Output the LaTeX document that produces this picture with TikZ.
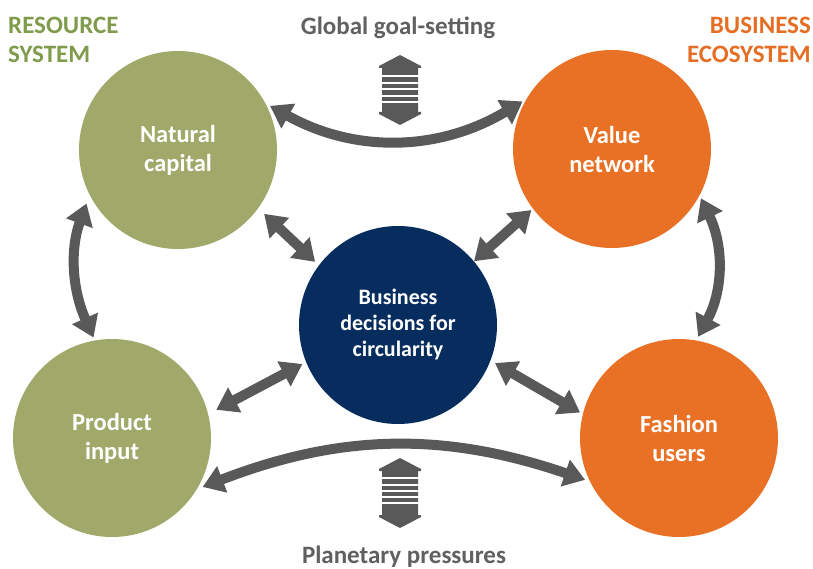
\documentclass[tikz,border=0pt]{standalone}
\usepackage{fontspec}
\setmainfont{Carlito}
\usetikzlibrary{arrows.meta}
\definecolor{olivecirc}{RGB}{160,168,106}
\definecolor{orangecirc}{RGB}{233,113,38}
\definecolor{navycirc}{RGB}{6,45,94}
\definecolor{arrowgray}{RGB}{89,89,89}
\definecolor{labelgray}{RGB}{96,96,96}
\definecolor{titlegreen}{RGB}{127,155,75}
\definecolor{titleorange}{RGB}{230,110,36}
\tikzset{
  hub/.style={circle, minimum size=198pt, inner sep=0pt, text=white, align=center,
    font=\bfseries\fontsize{24.5}{29}\selectfont},
  heading/.style={inner sep=0pt, font=\bfseries\fontsize{25}{29}\selectfont},
  link/.style={line width=10pt, draw=arrowgray,
    {Triangle[width=27pt,length=21pt]}-{Triangle[width=27pt,length=21pt]}}
}
\begin{document}
\begin{tikzpicture}[x=1pt,y=-1pt]
\useasboundingbox (0,0) rectangle (813,569);
% circles
\node[hub, fill=olivecirc] (natcap) at (178,150) {Natural\\capital};
\node[hub, fill=orangecirc] (valnet) at (612,149) {Value\\network};
\node[hub, fill=navycirc, font=\bfseries\fontsize{22}{26}\selectfont] (bizdec) at (398,325) {Business\\decisions for\\circularity};
\node[hub, fill=olivecirc] (prodin) at (112,438) {Product\\input};
\node[hub, fill=orangecirc] (fashusr) at (679,438) {Fashion\\users};
% headings
\node[heading, text=titlegreen, anchor=north west, align=left] (ressys) at (8,17) {RESOURCE\\SYSTEM};
\node[heading, text=titleorange, anchor=north east, align=right] (bizeco) at (811,17) {BUSINESS\\ECOSYSTEM};
\node[heading, text=labelgray, anchor=base] (goal) at (398,35) {Global goal-setting};
\node[heading, text=labelgray, anchor=base] (planet) at (404,563) {Planetary pressures};
% links to the centre
\draw[link, shorten <=8pt, shorten >=5pt] (natcap.-36) -- (bizdec.143);
\draw[link, shorten <=2pt] (valnet.-143) -- (bizdec.40);
\draw[link, shorten <=9pt, shorten >=4pt] (prodin.14) -- (bizdec.202);
\draw[link, shorten <=3pt, shorten >=5pt] (fashusr.166) -- (bizdec.-21);
% outer links
\draw[link, shorten <=5pt, shorten >=4pt] (natcap.28) to[bend right=30] (valnet.150);
\draw[link, shorten <=6pt, shorten >=5pt] (prodin.-31) to[bend left=20] (fashusr.206);
\draw[link, shorten <=9pt, shorten >=3pt] (natcap.207) to[bend right=22] (prodin.100);
\draw[link, shorten <=3pt, shorten >=4pt] (valnet.-28) to[bend left=27] (fashusr.80);
% striped arrows
\begin{scope}[shift={(400,55)}]
\fill[arrowgray] (0,0) -- (21,11) -- (21,13) -- (18,13) -- (18,57) -- (21,57) -- (21,59) -- (0,70)
  -- (-21,59) -- (-21,57) -- (-18,57) -- (-18,13) -- (-21,13) -- (-21,11) -- cycle;
\draw[white, line width=2pt] (-19,21.5) -- (19,21.5);
\draw[white, line width=2pt] (-19,28) -- (19,28);
\draw[white, line width=2pt] (-19,34.5) -- (19,34.5);
\draw[white, line width=2pt] (-19,41) -- (19,41);
\draw[white, line width=2pt] (-19,47.5) -- (19,47.5);
\end{scope}
\begin{scope}[shift={(400,458)}]
\fill[arrowgray] (0,0) -- (21,11) -- (21,13) -- (18,13) -- (18,57) -- (21,57) -- (21,59) -- (0,70)
  -- (-21,59) -- (-21,57) -- (-18,57) -- (-18,13) -- (-21,13) -- (-21,11) -- cycle;
\draw[white, line width=2pt] (-19,20) -- (19,20);
\draw[white, line width=2pt] (-19,26.5) -- (19,26.5);
\draw[white, line width=2pt] (-19,32.5) -- (19,32.5);
\draw[white, line width=2pt] (-19,38.5) -- (19,38.5);
\draw[white, line width=2pt] (-19,44.5) -- (19,44.5);
\end{scope}
\end{tikzpicture}
\end{document}
